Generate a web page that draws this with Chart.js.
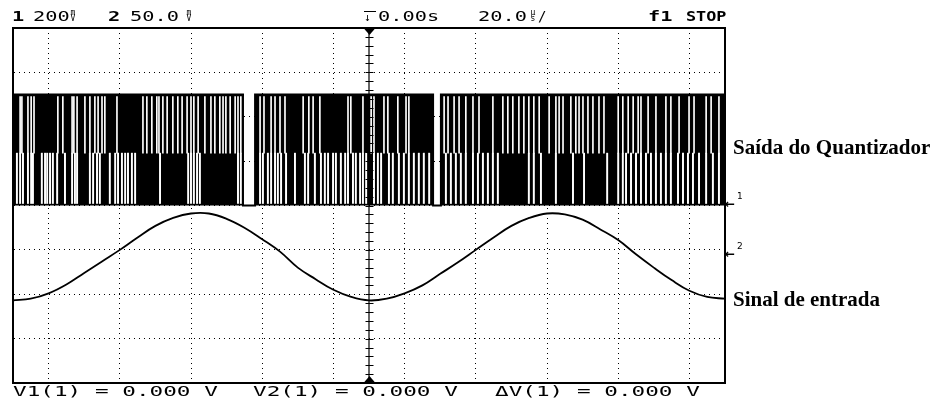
<!DOCTYPE html>
<html><head><meta charset="utf-8">
<script src="https://cdn.jsdelivr.net/npm/chart.js@4.4.1/dist/chart.umd.min.js"></script>
<style>
html,body{margin:0;padding:0;background:#fff;}
#wrap{position:relative;width:939px;height:402px;overflow:hidden;background:#fff;}
canvas{position:absolute;left:0;top:0;}
.t{position:absolute;white-space:pre;font-family:"DejaVu Sans Mono",monospace;font-size:14px;line-height:14px;color:#000;transform-origin:0 0;}
.hd{transform:scaleX(1.45);}
.ft{transform:scaleX(1.62);}
.b{font-weight:bold;}
.stk{position:absolute;font-family:"DejaVu Sans Mono",monospace;font-size:8px;line-height:6px;text-align:center;width:12px;}
.lbl{position:absolute;white-space:pre;font-family:"Liberation Serif","Times New Roman",serif;font-weight:bold;font-size:21px;line-height:21px;color:#000;}
.mk{position:absolute;font-family:"DejaVu Sans",sans-serif;font-size:12px;line-height:12px;font-weight:bold;}
.mkd{position:absolute;font-family:"DejaVu Sans",sans-serif;font-size:9px;line-height:9px;}
</style></head>
<body>
<div id="wrap">
<canvas id="c" width="939" height="402"></canvas>
<div class="t hd b" style="left:12px;top:9px;">1</div>
<div class="t hd" style="left:33px;top:9px;">200</div>
<div class="stk" style="left:67px;top:10px;">m<br>V</div>
<div class="t hd b" style="left:108px;top:9px;">2</div>
<div class="t hd" style="left:130px;top:9px;">50.0</div>
<div class="stk" style="left:183px;top:10px;">m<br>V</div>
<div class="t" style="left:364px;top:11px;width:12px;border-top:1.5px solid #000;font-size:11px;line-height:11px;">↓</div>
<div class="t hd" style="left:378px;top:9px;">0.00s</div>
<div class="t hd" style="left:478px;top:9px;">20.0</div>
<div class="stk" style="left:527px;top:10px;">µ<br>s</div>
<div class="t" style="left:538px;top:9px;">/</div>
<div class="t hd b" style="left:648px;top:9px;">f1</div>
<div class="t b" style="left:686px;top:9px;transform:scaleX(1.2);">STOP</div>

<div class="t ft" style="left:13px;top:384px;">V1(1) = 0.000 V</div>
<div class="t ft" style="left:253px;top:384px;">V2(1) = 0.000 V</div>
<div class="t ft" style="left:495px;top:384px;">ΔV(1) = 0.000 V</div>

<div class="lbl" style="left:733px;top:137px;">Saída do Quantizador</div>
<div class="lbl" style="left:733px;top:289px;">Sinal de entrada</div>

<div class="mk" style="left:725px;top:198px;">←</div>
<div class="mkd" style="left:737px;top:192px;">1</div>
<div class="mk" style="left:725px;top:248px;">←</div>
<div class="mkd" style="left:737px;top:242px;">2</div>
</div>
<script>
// Time axis: 20 us/div, 10 divisions, trigger at 0
const timeRangeUs = [-100, 100];
// Channel 1: 200 mV/div, ground at centre; Channel 2: 50 mV/div, ground one division below centre
const ch1RangeMv = [-800, 800];
const ch2RangeMv = [-150, 250];

// Input sine (channel 2), sampled every 5 us
const sineTimesUs = [-100,-95,-90,-85,-80,-75,-70,-65,-60,-55,-50,-45,-40,-35,-30,-25,-20,-15,-10,-5,0,5,10,15,20,25,30,35,40,45,50,55,60,65,70,75,80,85,90,95,100];
const sineMv = [-57,-55,-49,-39,-26,-13,0,14,27,36,41,41,35,25,12,-2,-20,-33,-45,-53,-57,-55,-49,-40,-27,-14,0,14,27,36,41,40,34,23,11,-5,-20,-34,-46,-53,-55];

// Quantizer output (channel 1): levels and the dense bit stream
const quantLowMv = 0;
const quantHighMv = 500;
const quantBandSplitMv = 236;
// intervals where the output stays low for a while
const holdLowIntervalsUs = [[-35.4, -32.0], [18.0, 20.2]];
// thin gaps seen in the upper and lower halves of the trace
const upperGapTimesUs = [-98.0,-97.5,-95.8,-94.9,-94.1,-87.4,-86.0,-83.4,-82.9,-82.0,-79.8,-78.4,-77.0,-76.1,-75.0,-74.2,-70.8,-63.5,-62.4,-61.0,-59.6,-59.0,-57.9,-56.7,-55.1,-53.7,-52.5,-51.1,-50.0,-49.2,-48.0,-46.1,-44.4,-43.3,-41.9,-41.0,-40.2,-39.0,-37.6,-36.8,-36.0,-30.6,-29.5,-27.5,-26.4,-25.0,-23.6,-18.5,-16.9,-15.7,-13.8,-5.9,-5.1,-1.7,0.6,1.4,4.2,5.3,8.1,10.4,11.2,21.1,22.2,23.9,25.3,27.2,29.2,30.9,34.8,37.6,39.0,40.4,42.1,43.5,44.9,46.3,47.8,50.6,52.5,53.4,54.5,56.7,58.1,59.0,60.1,61.5,62.9,64.6,66.0,70.0,71.3,72.8,74.2,75.6,76.4,78.4,80.6,83.4,84.8,87.1,89.9,91.3,94.7,96.1,98.3];
const lowerGapTimesUs = [-98.9,-98.0,-97.2,-95.8,-94.9,-94.4,-91.9,-91.0,-90.4,-89.6,-88.8,-87.6,-85.4,-83.4,-82.6,-82.0,-78.4,-77.5,-76.4,-75.6,-72.8,-71.3,-70.5,-69.4,-68.5,-67.7,-66.6,-65.7,-58.7,-50.8,-50.0,-49.2,-48.3,-47.5,-36.8,-36.0,-30.6,-29.8,-28.4,-27.5,-26.4,-25.6,-24.7,-23.3,-20.8,-18.0,-17.1,-15.2,-13.5,-12.4,-11.5,-10.1,-9.3,-7.9,-6.7,-5.9,-4.5,-3.7,-2.5,-1.7,-0.8,1.4,2.5,3.4,5.6,6.7,8.4,9.8,11.2,12.6,14.0,15.4,16.9,21.6,23.0,24.4,25.8,27.2,29.2,30.6,32.0,33.4,34.8,36.2,44.9,46.3,48.3,52.5,57.3,60.4,66.9,70.0,71.3,72.2,73.6,75.0,76.4,77.8,79.2,80.6,82.0,83.4,84.8,86.8,88.2,89.6,91.0,92.7,94.7,96.6,98.3];

// ---- build datasets ----
const envelope = [{x: timeRangeUs[0], y: quantHighMv}];
holdLowIntervalsUs.forEach(([a, b]) => {
  envelope.push({x: a, y: quantLowMv});
  envelope.push({x: b, y: quantHighMv});
});
envelope.push({x: timeRangeUs[1], y: quantHighMv});

const edgeMv = 9; // keep trace edges solid
const upperGaps = upperGapTimesUs.map(t => ({x: t, y: [quantBandSplitMv, quantHighMv - edgeMv]}));
const lowerGaps = lowerGapTimesUs.map(t => ({x: t, y: [quantLowMv + edgeMv, quantBandSplitMv]}));
const sineData = sineTimesUs.map((t, i) => ({x: t, y: sineMv[i]}));

const minorStepMv = 40;
const graticule = {
  id: 'graticule',
  afterDatasetsDraw(chart) {
    const {ctx, scales: {x, y}} = chart;
    const cx = Math.round(x.getPixelForValue(0)) + 0.5;
    const top = y.getPixelForValue(ch1RangeMv[1]);
    const bot = y.getPixelForValue(ch1RangeMv[0]);
    ctx.save();
    ctx.strokeStyle = '#000';
    ctx.lineWidth = 1;
    for (let v = ch1RangeMv[0] + minorStepMv; v < ch1RangeMv[1]; v += minorStepMv) {
      const py = Math.round(y.getPixelForValue(v)) + 0.5;
      ctx.beginPath(); ctx.moveTo(cx - 4, py); ctx.lineTo(cx + 4, py); ctx.stroke();
    }
    ctx.fillStyle = '#000';
    ctx.beginPath(); ctx.moveTo(cx - 6, top); ctx.lineTo(cx + 6, top); ctx.lineTo(cx, top + 7); ctx.closePath(); ctx.fill();
    ctx.beginPath(); ctx.moveTo(cx - 6, bot); ctx.lineTo(cx + 6, bot); ctx.lineTo(cx, bot - 7); ctx.closePath(); ctx.fill();
    ctx.restore();
  }
};

const gridColor = '#000';
new Chart(document.getElementById('c'), {
  type: 'line',
  data: {
    datasets: [
      {type: 'line', data: envelope, stepped: 'before', fill: 'origin', backgroundColor: '#000', borderColor: '#000', borderWidth: 2, pointRadius: 0, yAxisID: 'y', order: 4},
      {type: 'bar', data: upperGaps, backgroundColor: '#fff', borderWidth: 0, barThickness: 1, grouped: false, yAxisID: 'y', order: 3},
      {type: 'bar', data: lowerGaps, backgroundColor: '#fff', borderWidth: 0, barThickness: 1.3, grouped: false, yAxisID: 'y', order: 3},
      {type: 'line', data: [{x: 0, y: ch1RangeMv[0]}, {x: 0, y: ch1RangeMv[1]}], borderColor: '#000', borderWidth: 1.2, pointRadius: 0, yAxisID: 'y', order: 2},
      {type: 'line', data: sineData, borderColor: '#000', borderWidth: 1.8, pointRadius: 0, tension: 0.4, yAxisID: 'y2', order: 1}
    ]
  },
  options: {
    responsive: false,
    animation: false,
    events: [],
    devicePixelRatio: 1,
    layout: {padding: {left: 13, right: 214, top: 28, bottom: 19}},
    plugins: {legend: {display: false}, tooltip: {enabled: false}},
    scales: {
      x: {type: 'linear', position: 'bottom', min: timeRangeUs[0], max: timeRangeUs[1], offset: false,
          ticks: {display: false, stepSize: 20}, grid: {color: gridColor, lineWidth: 1, drawTicks: false},
          border: {display: true, color: '#000', width: 2, dash: [1, 4]}},
      x2: {type: 'linear', position: 'top', min: timeRangeUs[0], max: timeRangeUs[1], offset: false,
          ticks: {display: false}, grid: {display: false, drawTicks: false}, border: {display: true, color: '#000', width: 2}},
      y: {type: 'linear', position: 'left', min: ch1RangeMv[0], max: ch1RangeMv[1],
          ticks: {display: false, stepSize: 200}, grid: {color: gridColor, lineWidth: 1, drawTicks: false},
          border: {display: true, color: '#000', width: 2, dash: [1, 4]}},
      y2: {type: 'linear', position: 'right', min: ch2RangeMv[0], max: ch2RangeMv[1],
          ticks: {display: false}, grid: {display: false, drawTicks: false}, border: {display: true, color: '#000', width: 2}}
    }
  },
  plugins: [graticule]
});
</script>
</body></html>
